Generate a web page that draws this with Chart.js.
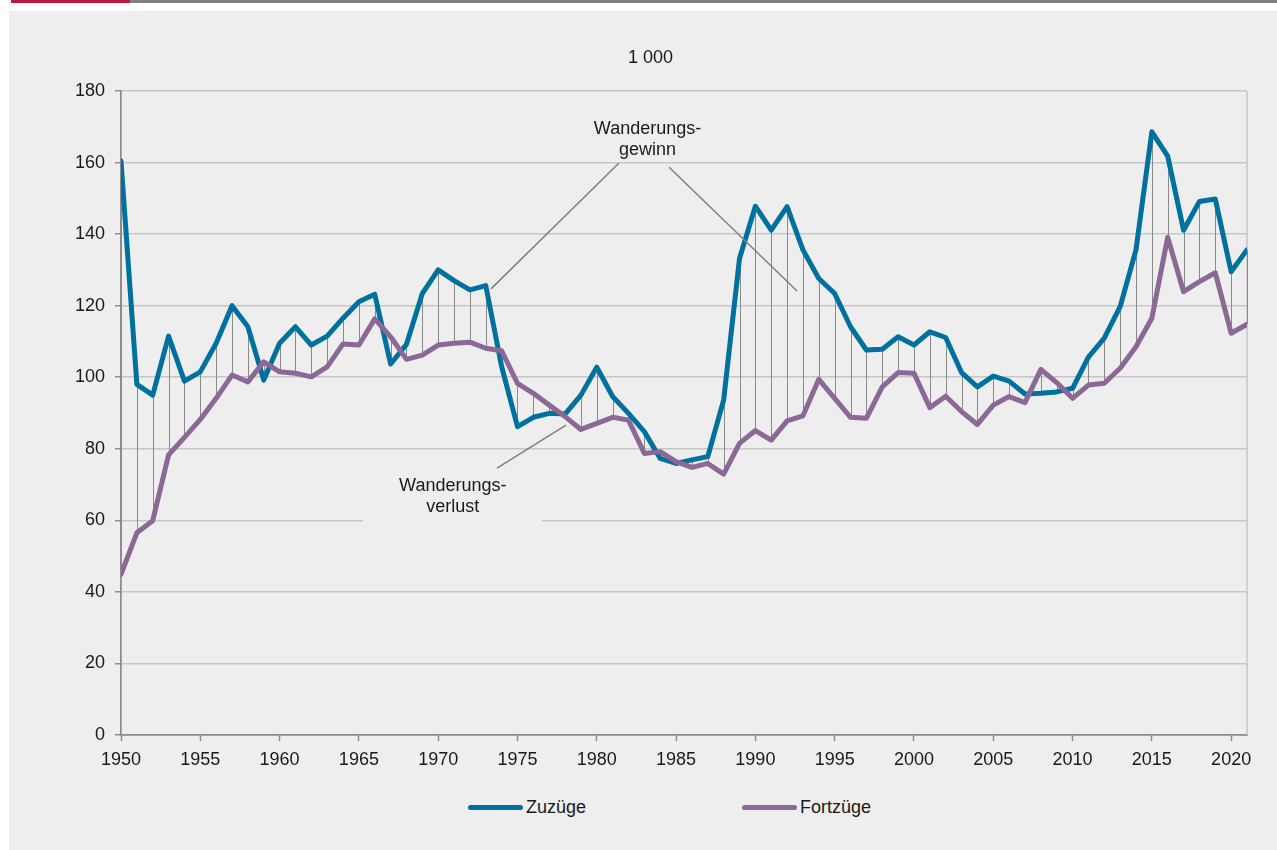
<!DOCTYPE html>
<html>
<head>
<meta charset="utf-8">
<script src="https://cdn.jsdelivr.net/npm/chart.js@4.4.1/dist/chart.umd.min.js"></script>
<style>
    body { margin: 0; background: #ffffff; width: 1277px; height: 850px; overflow: hidden; position: relative; font-family: "Liberation Sans", Arial, sans-serif; }
    #barRed { position: absolute; left: 11px; top: 0; width: 119px; height: 3px; background: #c4123f; }
    #barGray { position: absolute; left: 130px; top: 0; width: 1147px; height: 3px; background: #808080; }
    #panel { position: absolute; left: 9px; top: 11px; width: 1268px; height: 839px; background: #edeeed; }
    #chartBox { position: absolute; left: 0; top: 0; width: 1268px; height: 780px; }
    .legendItem { position: absolute; top: 786px; display: flex; align-items: center; font-size: 18px; color: #1a1a1a; }
    .legendItem span.swatch { display: inline-block; width: 55px; height: 5px; border-radius: 3px; margin-right: 3px; }
</style>
</head>
<body>
<div id="barRed"></div>
<div id="barGray"></div>
<div id="panel">
    <div id="chartBox"><canvas id="migrationChart"></canvas></div>
    <div class="legendItem" id="legendZu" style="left: 459px;"><span class="swatch"></span><span class="txt"></span></div>
    <div class="legendItem" id="legendFort" style="left: 733px;"><span class="swatch"></span><span class="txt"></span></div>
</div>
<script>
const years = Array.from({ length: 72 }, (_, i) => 1950 + i);
const xTicks = [1950, 1955, 1960, 1965, 1970, 1975, 1980, 1985, 1990, 1995, 2000, 2005, 2010, 2015, 2020];

// Zuzüge (1 000)
const zuzuege = [
    160.4, 98.0, 95.0, 111.5, 98.9, 101.5, 109.5, 120.0, 114.1, 99.2,
    109.5, 114.1, 109.0, 111.5, 116.5, 121.1, 123.2, 103.7, 109.2, 123.4,
    130.0, 127.0, 124.4, 125.6, 103.0, 86.2, 88.8, 89.9, 89.7, 95.0,
    102.8, 94.6, 89.9, 84.8, 77.3, 75.9, 76.9, 77.8, 93.6, 133.2,
    147.8, 141.1, 147.7, 135.6, 127.6, 123.4, 114.1, 107.6, 107.8, 111.3,
    109.0, 112.7, 111.1, 101.3, 97.3, 100.3, 98.9, 95.3, 95.5, 95.9,
    96.9, 105.6, 110.9, 119.7, 135.6, 168.6, 161.8, 141.1, 149.1, 149.8,
    129.5, 135.6
];

// Fortzüge (1 000)
const fortzuege = [
    44.9, 56.5, 59.9, 78.3, 83.2, 88.2, 94.1, 100.6, 98.7, 104.3,
    101.5, 101.1, 100.1, 102.9, 109.3, 109.0, 116.3, 111.3, 105.0, 106.2,
    109.0, 109.5, 109.8, 108.1, 107.4, 98.3, 95.5, 92.2, 89.0, 85.4,
    87.1, 88.8, 88.0, 78.7, 79.2, 76.4, 74.8, 75.9, 72.9, 81.5,
    85.1, 82.4, 87.8, 89.2, 99.4, 94.1, 88.8, 88.5, 97.3, 101.3,
    101.1, 91.5, 94.7, 90.4, 86.8, 92.2, 94.6, 92.9, 102.2, 98.5,
    94.1, 97.8, 98.3, 102.5, 108.5, 116.5, 139.1, 123.9, 126.7, 129.2,
    112.3, 114.8
];

const seriesNames = ['Zuzüge', 'Fortzüge'];
const unitLabel = '1 000';

const blue = '#00709f';
const purple = '#8b6896';
const panelBg = '#edeeed';
const textColor = '#1a1a1a';
const fontFamily = '"Liberation Sans", Arial, sans-serif';

// callouts, positioned in data units (year, value)
const callouts = [
    {
        text: ['Wanderungs-', 'gewinn'], x: 1983.2, y: [167.9, 162.0],
        lines: [[1981.4, 159.9, 1973.33, 124.7], [1984.56, 158.7, 1992.63, 124.1]]
    },
    {
        text: ['Wanderungs-', 'verlust'], x: 1970.92, y: [68.3, 62.4],
        lines: [[1973.71, 74.6, 1978.06, 86.6]],
        box: [1965.26, 1976.55, 77.4, 59.0]
    }
];

const extras = {
    id: 'extras',
    beforeDatasetsDraw(chart) {
        const { ctx, chartArea: a, scales: { x, y } } = chart;
        ctx.save();
        // label boxes hide the gridline behind the text
        callouts.forEach(c => {
            if (!c.box) return;
            const x0 = x.getPixelForValue(c.box[0]), x1 = x.getPixelForValue(c.box[1]);
            const y0 = y.getPixelForValue(c.box[2]), y1 = y.getPixelForValue(c.box[3]);
            ctx.fillStyle = panelBg;
            ctx.fillRect(x0, y0, x1 - x0, y1 - y0);
        });
        // right frame line
        ctx.strokeStyle = '#c6c6c6';
        ctx.lineWidth = 1.5;
        ctx.beginPath();
        ctx.moveTo(a.right, a.top);
        ctx.lineTo(a.right, a.bottom);
        ctx.stroke();
        // high-low lines between the two series
        const top = chart.getDatasetMeta(0).data;
        const low = chart.getDatasetMeta(1).data;
        ctx.strokeStyle = '#8a8a8a';
        ctx.lineWidth = 1;
        ctx.beginPath();
        top.forEach((p, i) => {
            const px = Math.round(p.x) + 0.5;
            ctx.moveTo(px, p.y);
            ctx.lineTo(px, low[i].y);
        });
        ctx.stroke();
        ctx.restore();
    },
    afterDatasetsDraw(chart) {
        const { ctx, scales: { x, y } } = chart;
        ctx.save();
        ctx.font = '18px ' + fontFamily;
        ctx.fillStyle = textColor;
        ctx.textAlign = 'center';
        ctx.textBaseline = 'alphabetic';
        ctx.fillText(unitLabel, 641.6, 52.3);
        callouts.forEach(c => {
            c.text.forEach((t, i) => ctx.fillText(t, x.getPixelForValue(c.x), y.getPixelForValue(c.y[i])));
            ctx.strokeStyle = '#808080';
            ctx.lineWidth = 1.5;
            c.lines.forEach(l => {
                ctx.beginPath();
                ctx.moveTo(x.getPixelForValue(l[0]), y.getPixelForValue(l[1]));
                ctx.lineTo(x.getPixelForValue(l[2]), y.getPixelForValue(l[3]));
                ctx.stroke();
            });
        });
        ctx.restore();
    }
};

const tickFont = { family: fontFamily, size: 18 };

const ctx = document.getElementById('migrationChart').getContext('2d');
const migrationChart = new Chart(ctx, {
    type: 'line',
    data: {
        labels: years,
        datasets: [{
            label: seriesNames[0],
            data: zuzuege,
            borderColor: blue,
            borderWidth: 5,
            pointRadius: 0,
            tension: 0,
            borderJoinStyle: 'round',
            borderCapStyle: 'round',
            order: 2
        }, {
            label: seriesNames[1],
            data: fortzuege,
            borderColor: purple,
            borderWidth: 5,
            pointRadius: 0,
            tension: 0,
            borderJoinStyle: 'round',
            borderCapStyle: 'round',
            order: 1
        }]
    },
    options: {
        responsive: true,
        maintainAspectRatio: false,
        devicePixelRatio: 1,
        animation: false,
        layout: { padding: { top: 80, right: 30, left: 62, bottom: 16 } },
        plugins: {
            legend: { display: false },
            tooltip: { enabled: false }
        },
        scales: {
            x: {
                type: 'linear',
                min: 1950,
                max: 2021,
                afterBuildTicks: s => { s.ticks = xTicks.map(v => ({ value: v })); },
                afterFit: s => { s.height = 40; },
                grid: { drawOnChartArea: false, drawTicks: true, tickLength: 6, tickColor: '#8c8c8c', tickWidth: 1.5 },
                border: { color: '#8c8c8c', width: 1.75 },
                ticks: {
                    autoSkip: false,
                    maxRotation: 0,
                    padding: 8,
                    color: textColor,
                    font: tickFont,
                    callback: v => String(v)
                }
            },
            y: {
                min: 0,
                max: 180,
                afterFit: s => { s.width = 50; },
                grid: { color: '#c6c6c6', lineWidth: 1.5, tickLength: 6, tickColor: '#8c8c8c' },
                border: { color: '#8c8c8c', width: 1.75 },
                ticks: { stepSize: 20, padding: 10, color: textColor, font: tickFont }
            }
        }
    },
    plugins: [extras]
});

// simple html legend
[['legendZu', 0], ['legendFort', 1]].forEach(([id, i]) => {
    const el = document.getElementById(id);
    el.querySelector('.swatch').style.background = migrationChart.data.datasets[i].borderColor;
    el.querySelector('.txt').textContent = migrationChart.data.datasets[i].label;
});
</script>
</body>
</html>
